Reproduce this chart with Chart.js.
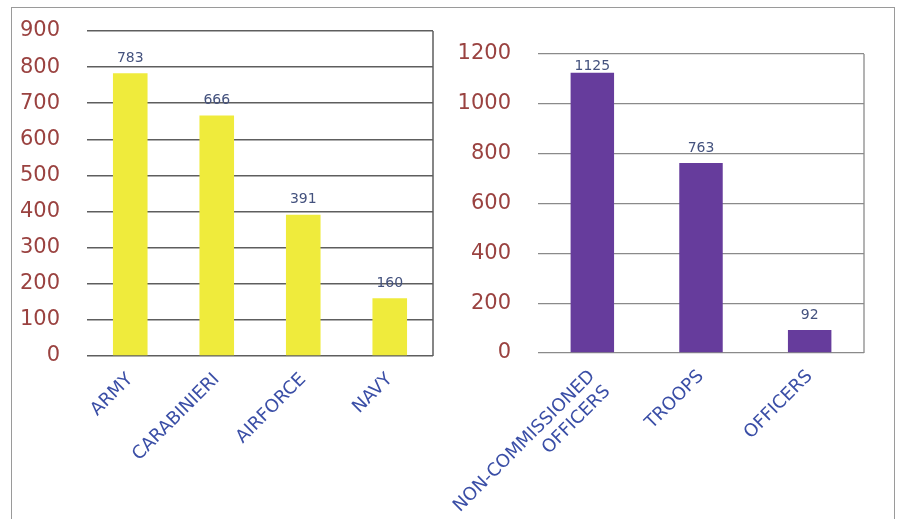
<!DOCTYPE html>
<html>
<head>
<meta charset="utf-8">
<script src="https://cdn.jsdelivr.net/npm/chart.js@4"></script>
<style>
  html, body { margin: 0; padding: 0; background: #ffffff; }
  body { width: 900px; height: 519px; position: relative; overflow: hidden; }
  #frame { position: absolute; left: 11px; top: 7px; width: 884px; height: 530px; border: 1px solid #9a9a9a; box-sizing: border-box; }
  #left { position: absolute; left: 12px; top: 8px; }
  #right { position: absolute; left: 440px; top: 8px; }
</style>
</head>
<body>
<div id="frame"></div>
<canvas id="left" width="428" height="505"></canvas>
<canvas id="right" width="455" height="505"></canvas>
<script>
// Personnel by armed force
const forceCategories = ['ARMY', 'CARABINIERI', 'AIRFORCE', 'NAVY'];
const forceValues = [783, 666, 391, 160];
const forceTicks = [0, 100, 200, 300, 400, 500, 600, 700, 800, 900];

// Personnel by rank
const rankCategories = [['NON-COMMISSIONED', 'OFFICERS'], 'TROOPS', 'OFFICERS'];
const rankValues = [1125, 763, 92];
const rankTicks = [0, 200, 400, 600, 800, 1000, 1200];

const FONT = '"DejaVu Sans", Verdana, sans-serif';

// Value labels above each bar, kept inside the plot area
const valueLabels = {
  id: 'valueLabels',
  afterDatasetsDraw(chart) {
    const ctx = chart.ctx;
    const area = chart.chartArea;
    const meta = chart.getDatasetMeta(0);
    const data = chart.data.datasets[0].data;
    ctx.save();
    ctx.font = '14px ' + FONT;
    ctx.fillStyle = '#44527e';
    ctx.textAlign = 'center';
    ctx.textBaseline = 'bottom';
    meta.data.forEach((bar, i) => {
      let y = bar.y - 8;
      const minY = area.top + 19;
      if (y < minY) y = minY;
      ctx.fillText(String(data[i]), bar.x, y);
    });
    ctx.restore();
  }
};

// Right-hand border of the plot area
const plotEdge = {
  id: 'plotEdge',
  beforeDatasetsDraw(chart, args, opts) {
    const ctx = chart.ctx;
    const a = chart.chartArea;
    ctx.save();
    ctx.strokeStyle = opts.color;
    ctx.lineWidth = opts.width;
    ctx.beginPath();
    ctx.moveTo(a.right, a.top);
    ctx.lineTo(a.right, a.bottom);
    ctx.stroke();
    ctx.restore();
  }
};

function makeChart(id, labels, values, ticks, cfg) {
  return new Chart(document.getElementById(id), {
    type: 'bar',
    data: {
      labels: labels,
      datasets: [{
        data: values,
        backgroundColor: cfg.barColor,
        barPercentage: 0.4,
        categoryPercentage: 1.0
      }]
    },
    options: {
      responsive: false,
      animation: false,
      devicePixelRatio: 1,
      layout: { padding: { top: cfg.padTop, right: cfg.padRight, left: 0, bottom: 0 } },
      plugins: {
        legend: { display: false },
        tooltip: { enabled: false },
        plotEdge: { color: cfg.gridColor, width: cfg.gridWidth }
      },
      scales: {
        x: {
          grid: { display: false, drawTicks: false },
          border: { display: false },
          ticks: {
            color: '#3a4ea6',
            font: { family: FONT, size: 18 },
            minRotation: 45,
            maxRotation: 45,
            autoSkip: false,
            padding: 13
          },
          afterFit(scale) {
            scale.height = cfg.xHeight;
            scale.paddingLeft = 0;
            scale.paddingRight = 0;
          }
        },
        y: {
          min: 0,
          max: ticks[ticks.length - 1],
          afterBuildTicks(scale) { scale.ticks = ticks.map(v => ({ value: v })); },
          grid: { color: cfg.gridColor, lineWidth: cfg.gridWidth, drawTicks: false },
          border: { display: false },
          ticks: {
            color: '#9a4240',
            font: { family: FONT, size: 21 },
            padding: 27,
            callback: v => String(v)
          },
          afterFit(scale) {
            scale.width = cfg.yWidth;
            scale.paddingTop = 12;
            scale.paddingBottom = 12;
          }
        }
      }
    },
    plugins: [plotEdge, valueLabels]
  });
}

makeChart('left', forceCategories, forceValues, forceTicks, {
  barColor: '#efeb3c',
  gridColor: '#5e5e5e',
  gridWidth: 1.5,
  padTop: 23,
  padRight: 7,
  xHeight: 157,
  yWidth: 75
});

makeChart('right', rankCategories, rankValues, rankTicks, {
  barColor: '#663c9c',
  gridColor: '#8a8a8a',
  gridWidth: 1.3,
  padTop: 46,
  padRight: 31,
  xHeight: 160,
  yWidth: 98
});
</script>
</body>
</html>
